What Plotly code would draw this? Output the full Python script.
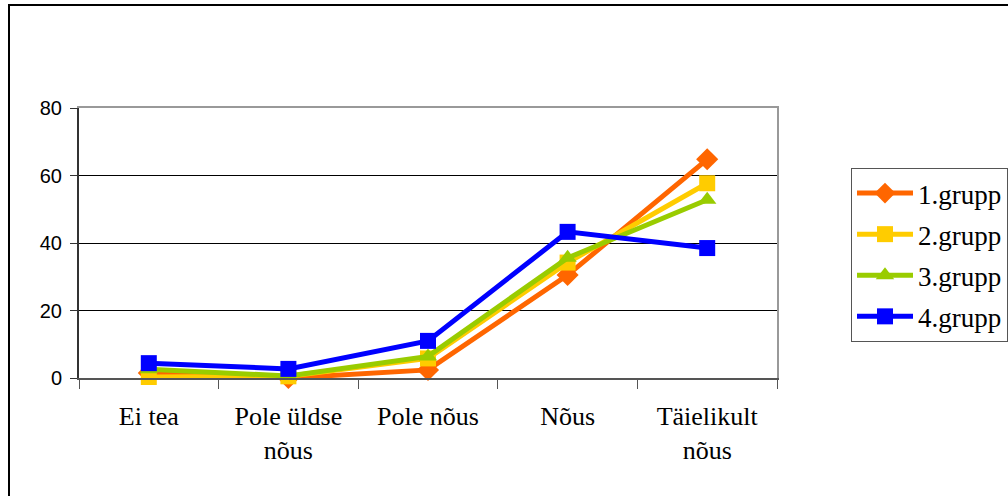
import plotly.graph_objects as go

categories = ["Ei tea", "Pole üldse<br>nõus", "Pole nõus", "Nõus", "Täielikult<br>nõus"]
group1 = [1.5, 0.0, 2.4, 30.5, 64.8]
group2 = [0.3, 0.5, 5.8, 34.2, 57.7]
group3 = [2.6, 0.6, 6.4, 35.6, 52.8]
group4 = [4.4, 2.7, 11.0, 43.3, 38.5]
names = ["1.grupp", "2.grupp", "3.grupp", "4.grupp"]
colors = ["#FF6600", "#FFCC00", "#99CC00", "#0000FF"]
symbols = ["diamond", "square", "triangle-up", "square"]
y_ticks = [0, 20, 40, 60, 80]

W, H = 1008, 496
L, R, T, B = 79, 777, 108, 378

fig = go.Figure()
for name, vals, c, s in zip(names, [group1, group2, group3, group4], colors, symbols):
    fig.add_trace(go.Scatter(
        x=categories, y=vals, name=name, legendgroup=name, mode="lines+markers",
        line=dict(color=c, width=5),
        marker=dict(symbol=s, size=16 if s != "diamond" else 17, color=c, line=dict(width=0)),
        cliponaxis=False,
    ))

fig.update_layout(
    width=W, height=H,
    margin=dict(l=L, r=W - R, t=T, b=H - B, autoexpand=False),
    paper_bgcolor="white", plot_bgcolor="white",
    showlegend=True,
    legend=dict(
        x=(851 - L) / (R - L), y=(B - 168) / (B - T), xanchor="left", yanchor="top",
        bordercolor="#555555", borderwidth=1, bgcolor="white",
        font=dict(family="Liberation Serif", size=27, color="black"),
        tracegroupgap=3, itemwidth=56,
    ),
    xaxis=dict(
        type="category", range=[-0.5, 4.5],
        showline=True, linecolor="#555555", linewidth=2,
        ticks="outside", tickson="boundaries", ticklen=9, tickcolor="#555555", tickwidth=1,
        showgrid=False, mirror=False, ticklabelstandoff=14,
        tickfont=dict(family="Liberation Serif", size=26, color="black"),
    ),
    xaxis2=dict(overlaying="x", showline=True, linecolor="#999999", linewidth=2,
                showticklabels=False, ticks="", side="top", showgrid=False, range=[0, 1]),
    yaxis=dict(
        range=[0, 80], tickvals=y_ticks,
        showline=True, linecolor="#333333", linewidth=2,
        ticks="outside", ticklen=7, tickcolor="#333333", tickwidth=1,
        showgrid=True, gridcolor="black", gridwidth=1,
        zeroline=False, ticklabelstandoff=4,
        tickfont=dict(family="Liberation Sans", size=20, color="black"),
    ),
    yaxis2=dict(overlaying="y", side="right", anchor="x", showline=True, linecolor="#999999",
                linewidth=2, showticklabels=False, ticks="", showgrid=False, range=[0, 1]),
)
fig.add_trace(go.Scatter(x=[0.5], y=[0.5], xaxis="x2", yaxis="y2", mode="markers",
                         marker=dict(opacity=0), showlegend=False, hoverinfo="skip"))

# outer chart border
fig.add_shape(type="rect", xref="paper", yref="paper",
              x0=(9 - L) / (R - L), x1=(1015 - L) / (R - L),
              y0=(B - 505) / (B - T), y1=(B - 5) / (B - T),
              line=dict(color="black", width=2), fillcolor="rgba(0,0,0,0)", layer="below")

fig.write_html("out.html", config={"displayModeBar": False},
               post_script="document.body.style.margin='0';")
